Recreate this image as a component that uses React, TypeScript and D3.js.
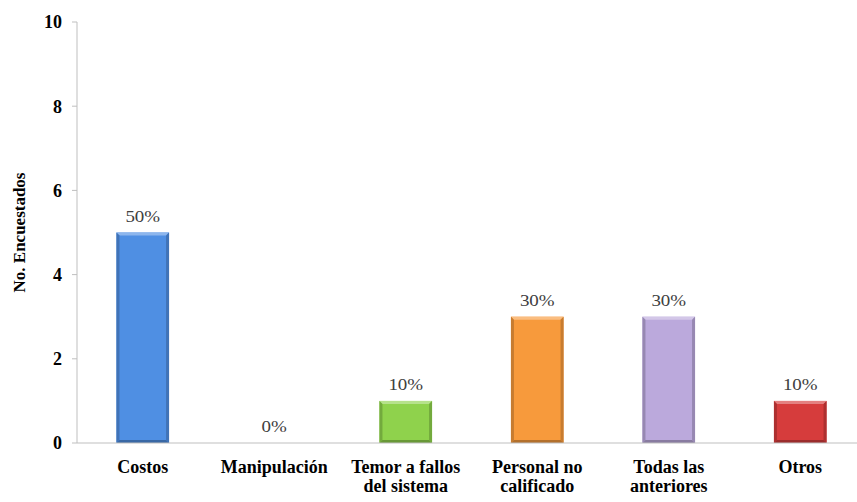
import React from "react";
import * as d3 from "d3";

const categories: string[][] = [
  ["Costos"],
  ["Manipulación"],
  ["Temor a fallos", "del sistema"],
  ["Personal no", "calificado"],
  ["Todas las", "anteriores"],
  ["Otros"],
];
const counts: number[] = [5, 0, 1, 3, 3, 1];
const percentLabels: string[] = ["50%", "0%", "10%", "30%", "30%", "10%"];
const barColors: string[] = ["#4f8fe3", "#7f7f7f", "#8fd24c", "#f79a3c", "#bba9dc", "#d63c3c"];
const yTicks: number[] = [0, 2, 4, 6, 8, 10];

const W = 857;
const H = 502;
const margin = { left: 77, top: 22, bottom: 59 };
const plotRight = 866;
const serif = "Liberation Serif";

export default function App() {
  const x = d3
    .scaleBand<number>()
    .domain(d3.range(categories.length))
    .range([margin.left, plotRight])
    .paddingInner(0.6)
    .paddingOuter(0.3);
  const y = d3.scaleLinear().domain([0, 10]).range([H - margin.bottom, margin.top]);
  const bevel = 3;
  const txt = { fontFamily: serif };
  const cx = (i: number) => x(i)! + x.bandwidth() / 2;

  return (
    <svg
      width={W}
      height={H}
      style={{ position: "absolute", left: 0, top: 0, background: "#fff", fontFamily: serif }}
    >
      {/* bars with a bevelled edge */}
      {counts.map((v, i) => {
        if (v <= 0) return null;
        const x0 = x(i)!;
        const w = x.bandwidth();
        const y0 = y(v);
        const y1 = y(0);
        const c = d3.color(barColors[i])!;
        const light = d3.interpolateRgb(barColors[i], "#ffffff")(0.35);
        const dark = c.darker(0.6).formatHex();
        const darker = c.darker(0.9).formatHex();
        const x1 = x0 + w;
        return (
          <g key={i}>
            <rect x={x0} y={y0} width={w} height={y1 - y0} fill={barColors[i]} />
            <polygon
              points={`${x0},${y0} ${x1},${y0} ${x1 - bevel},${y0 + bevel} ${x0 + bevel},${y0 + bevel}`}
              fill={light}
            />
            <polygon
              points={`${x0},${y0} ${x0 + bevel},${y0 + bevel} ${x0 + bevel},${y1 - bevel} ${x0},${y1}`}
              fill={dark}
            />
            <polygon
              points={`${x1},${y0} ${x1 - bevel},${y0 + bevel} ${x1 - bevel},${y1 - bevel} ${x1},${y1}`}
              fill={dark}
            />
            <polygon
              points={`${x0},${y1} ${x0 + bevel},${y1 - bevel} ${x1 - bevel},${y1 - bevel} ${x1},${y1}`}
              fill={darker}
            />
          </g>
        );
      })}

      {/* axes */}
      <line x1={margin.left} x2={margin.left} y1={y(10)} y2={y(0)} stroke="#bfbfbf" strokeWidth={1} />
      <line x1={margin.left} x2={W} y1={y(0)} y2={y(0)} stroke="#bfbfbf" strokeWidth={1} />
      {yTicks.map((t) => (
        <g key={t}>
          <line x1={margin.left - 5} x2={margin.left} y1={y(t)} y2={y(t)} stroke="#bfbfbf" />
          <text
            x={margin.left - 15}
            y={y(t)}
            dy="0.35em"
            textAnchor="end"
            fontSize={18}
            fontWeight="bold"
            fill="#000"
            style={txt}
          >
            {t}
          </text>
        </g>
      ))}

      {/* value labels */}
      {counts.map((v, i) => (
        <text
          key={i}
          transform={`translate(${cx(i)}, ${y(v) - 11}) scale(1.15, 1)`}
          textAnchor="middle"
          fontSize={16.5}
          fill="#404040"
          style={txt}
        >
          {percentLabels[i]}
        </text>
      ))}

      {/* category labels */}
      {categories.map((lines, i) => (
        <text
          key={i}
          x={cx(i)}
          y={y(0) + 30}
          textAnchor="middle"
          fontSize={18}
          fontWeight="bold"
          fill="#000"
          style={txt}
        >
          {lines.map((l, j) => (
            <tspan key={j} x={cx(i)} dy={j === 0 ? 0 : 19}>
              {l}
            </tspan>
          ))}
        </text>
      ))}

      {/* y-axis title */}
      <text
        transform={`translate(25, ${(y(0) + y(10)) / 2}) rotate(-90)`}
        textAnchor="middle"
        fontSize={17}
        fontWeight="bold"
        fill="#000"
        style={txt}
      >
        No. Encuestados
      </text>
    </svg>
  );
}
